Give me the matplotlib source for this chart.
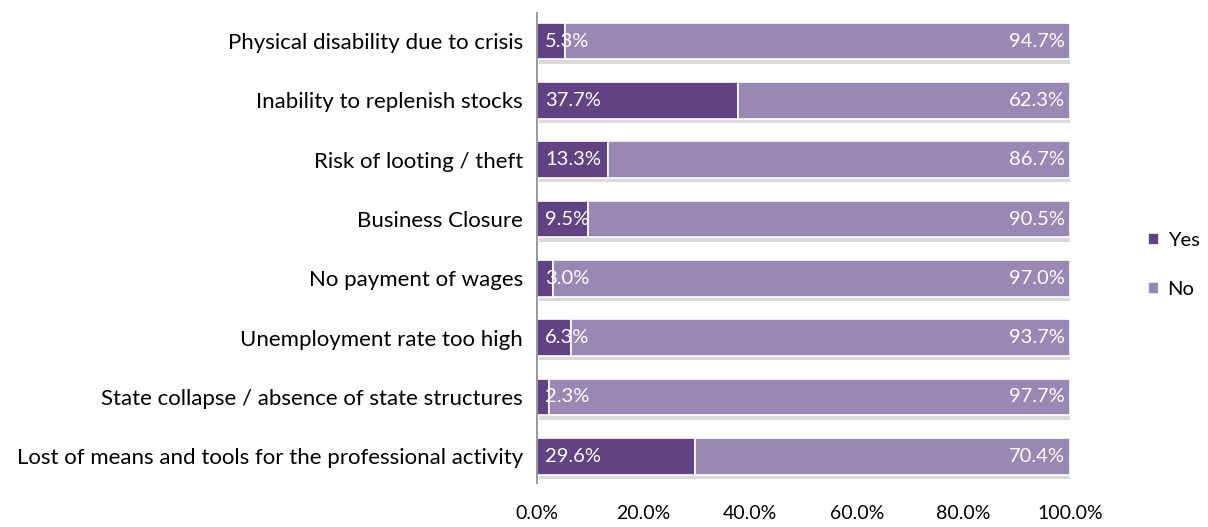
import matplotlib.pyplot as plt
import numpy as np

categories = [
    "Physical disability due to crisis",
    "Inability to replenish stocks",
    "Risk of looting / theft",
    "Business Closure",
    "No payment of wages",
    "Unemployment rate too high",
    "State collapse / absence of state structures",
    "Lost of means and tools for the professional activity",
]
yes_pct = [5.3, 37.7, 13.3, 9.5, 3.0, 6.3, 2.3, 29.6]
no_pct = [94.7, 62.3, 86.7, 90.5, 97.0, 93.7, 97.7, 70.4]
xticks = [0, 20, 40, 60, 80, 100]

plt.rcParams['font.family'] = ['Lato', 'DejaVu Sans']

fig = plt.figure(figsize=(12.08, 5.27), dpi=100)
ax = fig.add_axes([0.4445, 0.0835, 0.4413, 0.8915])

y = np.arange(len(categories))
h = 0.62
yes_col = '#614283'
no_col = '#9a87b3'

# soft shadow under each bar
ax.barh(y + 0.07, np.array(yes_pct) + np.array(no_pct), height=h, left=0.3,
        color='#dadada', edgecolor='none', zorder=1)
ax.barh(y, yes_pct, height=h, color=yes_col, edgecolor='white', linewidth=1.2,
        label='Yes', zorder=2)
ax.barh(y, no_pct, left=yes_pct, height=h, color=no_col, edgecolor='white',
        linewidth=1.2, label='No', zorder=2)

for i in range(len(categories)):
    ax.text(1.5, y[i], f"{yes_pct[i]:.1f}%", color='white', va='center',
            ha='left', fontsize=14.5, zorder=3)
    ax.text(99, y[i], f"{no_pct[i]:.1f}%", color='white', va='center',
            ha='right', fontsize=14.5, zorder=3)

ax.set_xlim(0, 100)
ax.set_ylim(7.45, -0.47)
ax.set_yticks(y)
ax.set_yticklabels(categories, fontsize=16)
ax.set_xticks(xticks)
ax.set_xticklabels([f"{t:.1f}%" for t in xticks], fontsize=14)
ax.tick_params(axis='both', length=0)
ax.tick_params(axis='y', pad=10)
ax.tick_params(axis='x', pad=16)
for s in ['top', 'right', 'bottom']:
    ax.spines[s].set_visible(False)
ax.spines['left'].set_color('#868686')
ax.spines['left'].set_linewidth(1.2)

handles, labels = ax.get_legend_handles_labels()
fig.legend(handles, labels, loc='center left', bbox_to_anchor=(0.944, 0.497),
           frameon=False, fontsize=14.5, handlelength=0.55, handleheight=0.55,
           handletextpad=0.4, labelspacing=1.6, borderaxespad=0)

fig.savefig('out.png', dpi=100)
